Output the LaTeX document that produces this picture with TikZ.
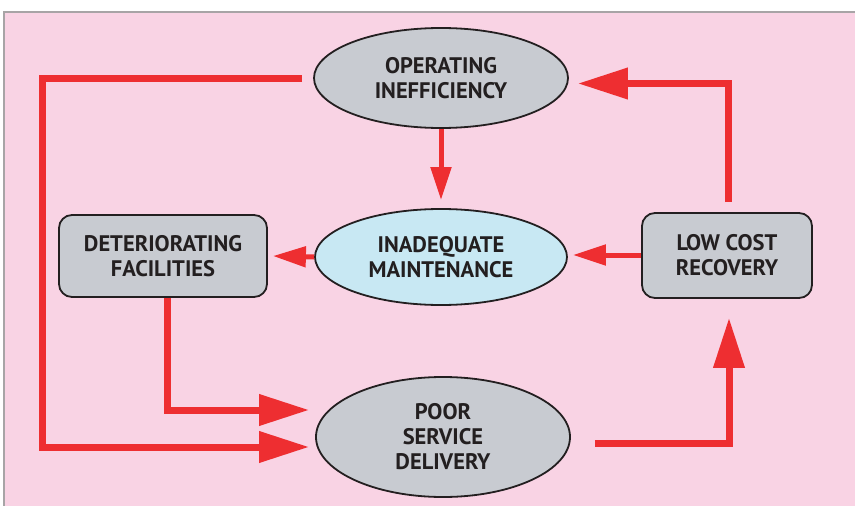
\documentclass[tikz,border=0pt]{standalone}
\usepackage{fontspec}
\newfontfamily\labfont{PT Sans}
\usetikzlibrary{shapes.geometric,arrows.meta,calc}
\definecolor{bgpink}{HTML}{F9D3E4}
\definecolor{framegrey}{HTML}{A8A4A6}
\definecolor{nodegrey}{HTML}{C8CBD1}
\definecolor{nodeblue}{HTML}{C8E8F3}
\definecolor{arrred}{HTML}{EE2E31}
\definecolor{txt}{HTML}{231F20}
\tikzset{
  lab/.style={font=\labfont\bfseries\fontsize{22.5}{25}\selectfont, text=txt, align=center, inner sep=0pt},
  ell/.style={lab, ellipse, draw=txt, line width=1.8pt, fill=nodegrey},
  rbox/.style={lab, rectangle, rounded corners=13pt, draw=txt, line width=1.8pt, fill=nodegrey},
  bigarr/.style={draw=arrred, line width=7pt, -{Triangle[length=50pt,width=30pt]}},
  bigline/.style={draw=arrred, line width=7pt},
  smallarr/.style={draw=arrred, line width=5pt, -{Triangle[length=33pt,width=20pt]}}
}
\begin{document}
\begin{tikzpicture}[x=1pt,y=-1pt]
\useasboundingbox (0,0) rectangle (855,506);
\fill[white] (0,0) rectangle (855,506);
\fill[bgpink] (4,12) rectangle (855,506);
\draw[framegrey, line width=1.3pt] (4,506) -- (4,12) -- (855,12);

\node[ell, minimum width=254pt, minimum height=100pt] (OI) at (441,78) {OPERATING\\INEFFICIENCY};
\node[ell, fill=nodeblue, minimum width=252pt, minimum height=96pt] (IM) at (441,257) {INADEQUATE\\MAINTENANCE};
\node[ell, minimum width=254pt, minimum height=120pt] (PSD) at (443,437) {POOR\\SERVICE\\DELIVERY};
\node[rbox, minimum width=208pt, minimum height=82pt] (DF) at (163,256) {DETERIORATING\\FACILITIES};
\node[rbox, minimum width=170pt, minimum height=85pt] (LCR) at (727,255.5) {LOW COST\\RECOVERY};

% corner coordinates
\coordinate (tl) at (42,78);
\coordinate (bl) at (42,447);
\coordinate (dfc) at (167,410);
\coordinate (tr) at (728.5,83.5);
\coordinate (br) at (729,443);

% OI -> IM
\draw[smallarr] (OI.south) -- ($(IM.north)+(0,-8)$);
% IM -> DF
\draw[smallarr] (IM.west) -- ($(DF.east)+(5,0)$);
% LCR -> IM
\draw[smallarr] ($(LCR.west)+(0,-0.5)$) -- ($(IM.west-|IM.east)+(5,-2)$);
% OI -> left -> PSD
\draw[bigarr] ($(OI.west)+(-11,0)$) -- (tl) -- (bl) -- ($(PSD.west)+(-6,10)$);
% DF -> PSD
\draw[bigarr] (DF.south-|dfc) -- (dfc) -- ($(PSD.west)+(-6,-27)$);
% LCR -> OI
\draw[bigarr] ($(LCR.north)+(1.5,-10)$) -- (tr) -- ($(OI.east)+(9,5.5)$);
% PSD -> LCR
\draw[bigarr] ($(PSD.east)+(24,6)$) -- (br) -- ($(LCR.south)+(2,19)$);
\end{tikzpicture}
\end{document}
